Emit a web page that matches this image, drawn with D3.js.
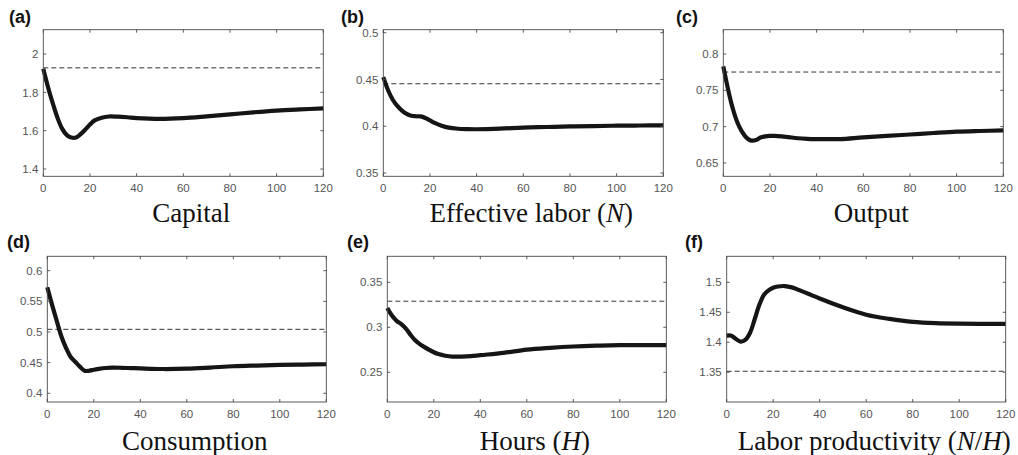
<!DOCTYPE html>
<html>
<head>
<meta charset="utf-8">
<script src="https://cdn.jsdelivr.net/npm/d3@7/dist/d3.min.js"></script>
<style>
  body { margin: 0; background: #fff; }
  svg { display: block; }
</style>
</head>
<body>
<div id="chart"></div>
<script>
// periods (quarters) at which the paths were read
var periods = [0, 2, 4, 6, 8, 10, 12, 14, 16, 18, 20, 22, 25, 28, 32, 36, 40, 50, 60, 70, 80, 90, 100, 110, 120];

var capital = [1.923, 1.828, 1.745, 1.670, 1.612, 1.578, 1.564, 1.564, 1.582, 1.606, 1.632, 1.654, 1.668, 1.674, 1.673, 1.670, 1.666, 1.662, 1.666, 1.675, 1.685, 1.696, 1.705, 1.711, 1.716];
var effLabor = [0.4525, 0.4388, 0.4286, 0.4217, 0.4167, 0.4133, 0.4113, 0.4107, 0.4105, 0.4088, 0.4062, 0.4035, 0.4005, 0.3985, 0.3973, 0.3969, 0.3968, 0.3974, 0.3986, 0.3992, 0.3998, 0.4002, 0.4006, 0.4008, 0.4010];
var output = [0.783, 0.752, 0.7256, 0.706, 0.693, 0.6845, 0.6808, 0.6815, 0.6850, 0.6866, 0.6872, 0.6872, 0.6866, 0.6855, 0.6840, 0.6832, 0.6829, 0.6829, 0.6853, 0.6872, 0.6892, 0.6912, 0.6930, 0.6940, 0.6948];
var consumption = [0.5729, 0.545, 0.519, 0.4935, 0.4745, 0.4597, 0.4515, 0.4435, 0.4368, 0.4368, 0.4385, 0.4398, 0.4413, 0.4418, 0.4416, 0.4411, 0.4406, 0.4396, 0.4402, 0.4420, 0.4441, 0.4453, 0.4463, 0.4469, 0.4474];
var hours = [0.3214, 0.3130, 0.3072, 0.3036, 0.2986, 0.2916, 0.2856, 0.2813, 0.2780, 0.2750, 0.2723, 0.2702, 0.2684, 0.2675, 0.2674, 0.2679, 0.2690, 0.2716, 0.2752, 0.2772, 0.2787, 0.2796, 0.2801, 0.2802, 0.2802];
var productivity = [1.411, 1.411, 1.4055, 1.4012, 1.404, 1.4155, 1.438, 1.462, 1.479, 1.4865, 1.491, 1.4930, 1.4937, 1.4915, 1.4857, 1.4795, 1.4731, 1.4583, 1.4460, 1.4390, 1.4340, 1.4318, 1.4310, 1.4308, 1.4308];

// initial steady states (dashed lines)
var steadyStates = [1.928, 0.4454, 0.7752, 0.5044, 0.3290, 1.3517];

var panelLetters = ['(a)', '(b)', '(c)', '(d)', '(e)', '(f)'];
var panelTitles = [
  ['Capital'],
  ['Effective labor (', {i: 'N'}, ')'],
  ['Output'],
  ['Consumption'],
  ['Hours (', {i: 'H'}, ')'],
  ['Labor productivity (', {i: 'N'}, '/', {i: 'H'}, ')']
];
var yDomains = [[1.362, 2.127], [0.3465, 0.5032], [0.6316, 0.8335], [0.3858, 0.6235], [0.2170, 0.3789], [1.3005, 1.5433]];
var yTicks = [[1.4, 1.6, 1.8, 2], [0.35, 0.4, 0.45, 0.5], [0.65, 0.7, 0.75, 0.8], [0.4, 0.45, 0.5, 0.55, 0.6], [0.25, 0.3, 0.35], [1.35, 1.4, 1.45, 1.5]];
var xTicks = [0, 20, 40, 60, 80, 100, 120];

var series = [capital, effLabor, output, consumption, hours, productivity];

// layout of the 6 boxes
var boxes = [
  {x: 43.3, y: 29.7, w: 280, h: 146.6, lx: 9, ly: 23},
  {x: 383.3, y: 29.7, w: 280, h: 146.6, lx: 341, ly: 23},
  {x: 723.3, y: 29.7, w: 280, h: 146.6, lx: 676, ly: 23},
  {x: 47.3, y: 256.3, w: 279, h: 145.7, lx: 7, ly: 248},
  {x: 387.3, y: 256.3, w: 279, h: 145.7, lx: 347, ly: 248},
  {x: 726.7, y: 256.3, w: 279, h: 145.7, lx: 685, ly: 248}
];

var svg = d3.select('#chart').append('svg')
  .attr('width', 1018)
  .attr('height', 455);

var fmt = d3.format('~g');
var axisColor = '#4a4a4a';
var tickLen = 3;

boxes.forEach(function(b, k) {
  var x = d3.scaleLinear().domain([0, 120]).range([b.x, b.x + b.w]);
  var y = d3.scaleLinear().domain(yDomains[k]).range([b.y + b.h, b.y]);
  var g = svg.append('g');

  // steady state
  g.append('line')
    .attr('x1', x(0)).attr('x2', x(120))
    .attr('y1', y(steadyStates[k])).attr('y2', y(steadyStates[k]))
    .style('stroke', '#333')
    .style('stroke-width', 1)
    .style('stroke-dasharray', '5,3');

  // transition path
  var line = d3.line()
    .x(function(d, i) { return x(periods[i]); })
    .y(function(d) { return y(d); })
    .curve(d3.curveCatmullRom.alpha(0.5));
  g.append('path')
    .datum(series[k])
    .attr('d', line)
    .style('fill', 'none')
    .style('stroke', '#151515')
    .style('stroke-width', 4.2)
    .style('stroke-linejoin', 'round');

  // axes box
  g.append('rect')
    .attr('x', b.x).attr('y', b.y)
    .attr('width', b.w).attr('height', b.h)
    .style('fill', 'none')
    .style('stroke', axisColor)
    .style('stroke-width', 0.9);

  // x ticks (bottom and top, inward)
  xTicks.forEach(function(t) {
    var px = x(t);
    g.append('line').attr('x1', px).attr('x2', px)
      .attr('y1', b.y + b.h).attr('y2', b.y + b.h - tickLen)
      .style('stroke', axisColor).style('stroke-width', 0.9);
    g.append('line').attr('x1', px).attr('x2', px)
      .attr('y1', b.y).attr('y2', b.y + tickLen)
      .style('stroke', axisColor).style('stroke-width', 0.9);
    g.append('text')
      .attr('x', px).attr('y', b.y + b.h + 15.5)
      .attr('text-anchor', 'middle')
      .style('font-family', 'Liberation Sans, Arial, sans-serif')
      .style('font-size', '11.5px')
      .style('fill', '#555')
      .text(fmt(t));
  });

  // y ticks (left and right, inward)
  yTicks[k].forEach(function(v) {
    var py = y(v);
    g.append('line').attr('x1', b.x).attr('x2', b.x + tickLen)
      .attr('y1', py).attr('y2', py)
      .style('stroke', axisColor).style('stroke-width', 0.9);
    g.append('line').attr('x1', b.x + b.w).attr('x2', b.x + b.w - tickLen)
      .attr('y1', py).attr('y2', py)
      .style('stroke', axisColor).style('stroke-width', 0.9);
    g.append('text')
      .attr('x', b.x - 5).attr('y', py)
      .attr('dy', '0.36em')
      .attr('text-anchor', 'end')
      .style('font-family', 'Liberation Sans, Arial, sans-serif')
      .style('font-size', '11.5px')
      .style('fill', '#555')
      .text(fmt(v));
  });

  // panel letter
  svg.append('text')
    .attr('x', b.lx).attr('y', b.ly)
    .style('font-family', 'Liberation Sans, Arial, sans-serif')
    .style('font-size', '18px')
    .style('font-weight', 'bold')
    .style('fill', '#111')
    .text(panelLetters[k]);

  // panel title
  var title = svg.append('text')
    .attr('x', b.x + b.w / 2 + 8)
    .attr('y', k < 3 ? 222 : 450)
    .attr('text-anchor', 'middle')
    .style('font-family', 'Liberation Serif, Times New Roman, serif')
    .style('font-size', '27px')
    .style('fill', '#111');
  panelTitles[k].forEach(function(part) {
    if (typeof part === 'string') {
      title.append('tspan').text(part);
    } else {
      title.append('tspan').style('font-style', 'italic').text(part.i);
    }
  });
});
</script>
</body>
</html>
